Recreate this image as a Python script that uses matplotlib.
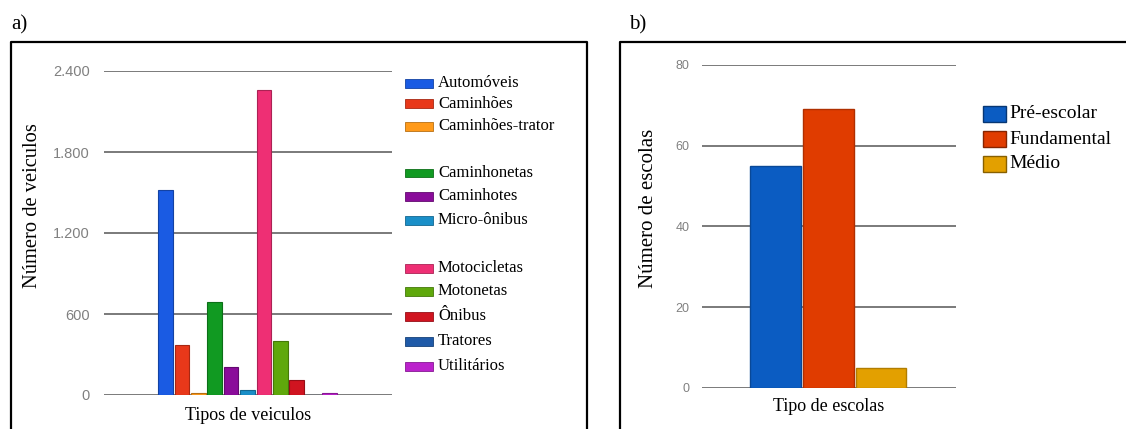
import numpy as np, matplotlib
matplotlib.use("Agg")
import matplotlib.pyplot as plt
from matplotlib.colors import to_rgb
from matplotlib.patches import Rectangle
from matplotlib.lines import Line2D

plt.rcParams.update({"font.family": "Liberation Serif"})
W, H = 1126, 429
SANS = "Liberation Sans"

# ---------- data ----------
veic_labels = ["Automóveis", "Caminhões", "Caminhões-trator",
               "Caminhonetas", "Caminhotes", "Micro-ônibus",
               "Motocicletas", "Motonetas", "Ônibus", "Tratores", "Utilitários"]
veic_values = [1520, 370, 12, 690, 205, 35, 2260, 400, 110, 1, 15]
veic_colors = ["#1a5be3", "#e8381a", "#ff9a1a", "#119a22", "#8a0c9a", "#1a8fc8",
               "#ee2f74", "#5fa80c", "#d01420", "#1f5aa8", "#bb22cc"]
veic_ticks = [0, 600, 1200, 1800, 2400]
veic_ticklabels = ["0", "600", "1.200", "1.800", "2.400"]

esc_labels = ["Pré-escolar", "Fundamental", "Médio"]
esc_values = [55, 69, 5]
esc_colors = ["#0b5cc2", "#e03c00", "#e3a000"]
esc_ticks = [0, 20, 40, 60, 80]


def darker(c, f=0.72):
    return tuple(v * f for v in to_rgb(c))


def fx(px):
    return px / W


def fy(py):
    return 1 - py / H


fig = plt.figure(figsize=(W / 100, H / 100), dpi=100)

# panel frames and labels
for xs, ys in [([10.5, 10.5, 587, 587], [440, 42, 42, 440]),
               ([620, 620, 1140], [440, 42, 42])]:
    fig.add_artist(Line2D([fx(x) for x in xs], [fy(y) for y in ys],
                          color="black", lw=1.6, transform=fig.transFigure))
fig.text(fx(11), fy(25), "a)", fontsize=15, va="center")
fig.text(fx(629), fy(25), "b)", fontsize=15, va="center")


def style(ax, ticks, ticklabels, pad, size):
    ax.set_yticks(ticks)
    ax.set_yticklabels(ticklabels, fontfamily=SANS, fontsize=size, color="#808080")
    ax.tick_params(axis="y", length=0, pad=pad)
    ax.set_xticks([])
    for s in ax.spines.values():
        s.set_visible(False)
    ax.yaxis.grid(True, color="#707070", lw=1.3)
    ax.set_axisbelow(True)


# ---------- a) vehicles ----------
ax1 = fig.add_axes([fx(104), fy(395), fx(288), 324 / H])
xa = np.arange(len(veic_values))
ax1.bar(xa, veic_values, width=0.9, color=veic_colors,
        edgecolor=[darker(c) for c in veic_colors], lw=0.8)
ax1.set_xlim(-3.76, 13.82)
ax1.set_ylim(0, 2400)
style(ax1, veic_ticks, veic_ticklabels, 10, 10.5)
ax1.set_ylabel("Número de veiculos", fontsize=14.8)
ax1.yaxis.set_label_coords(-62 / 288, 0.586)
ax1.set_xlabel("Tipos de veiculos", fontsize=13, labelpad=9)

leg_y = [83, 104, 126, 173, 196, 220, 268, 291, 316, 341, 366]
for lab, col, y in zip(veic_labels, veic_colors, leg_y):
    fig.add_artist(Rectangle((fx(405), fy(y + 4.5)), fx(28), 9 / H, transform=fig.transFigure,
                             facecolor=col, edgecolor=darker(col), lw=0.6))
    fig.text(fx(438), fy(y), lab, fontsize=12, va="center")

# ---------- b) schools ----------
ax2 = fig.add_axes([fx(702), fy(388), fx(254), 323 / H])
xb = np.arange(len(esc_values))
ax2.bar(xb, esc_values, width=0.96, color=esc_colors,
        edgecolor=[darker(c, 0.78) for c in esc_colors], lw=1.0)
ax2.set_xlim(-1.40, 3.42)
ax2.set_ylim(0, 80)
style(ax2, esc_ticks, [str(t) for t in esc_ticks], 9, 9)
ax2.set_ylabel("Número de escolas", fontsize=15)
ax2.yaxis.set_label_coords(-44 / 254, 0.557)
ax2.set_xlabel("Tipo de escolas", fontsize=13, labelpad=7)

for lab, col, y in zip(esc_labels, esc_colors, [114, 139, 164]):
    fig.add_artist(Rectangle((fx(983), fy(y + 7.5)), fx(23), 15 / H, transform=fig.transFigure,
                             facecolor=col, edgecolor=darker(col, 0.6), lw=1.0))
    fig.text(fx(1009), fy(y), lab, fontsize=14, va="center")

fig.savefig("out.png", dpi=100)
